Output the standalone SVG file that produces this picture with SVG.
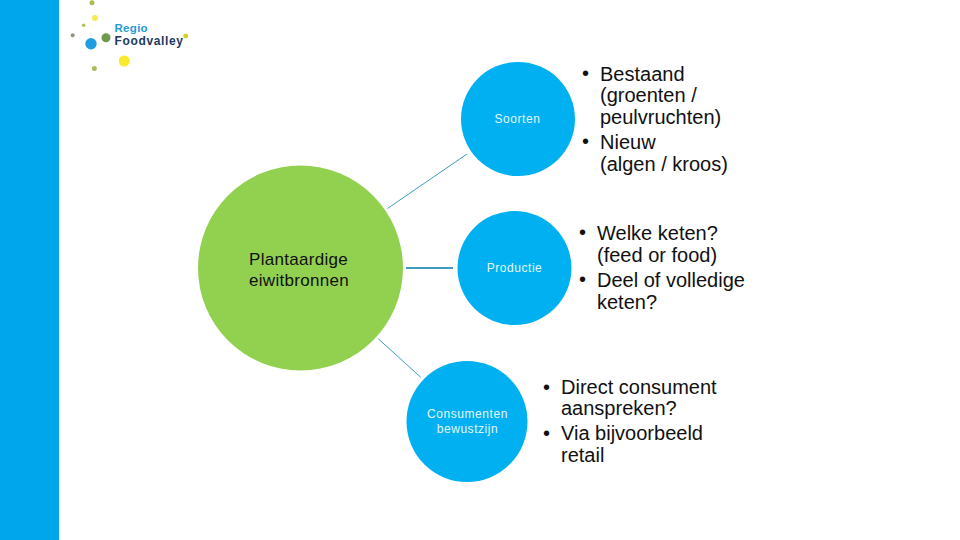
<svg xmlns="http://www.w3.org/2000/svg" width="960" height="540" viewBox="0 0 960 540">
<style>
text{font-family:"Liberation Sans",Arial,sans-serif}
.blue{fill:#00b0f0}
.small{font-size:12px;fill:#e4f7ff;text-anchor:middle;letter-spacing:.55px}
.big{font-size:20px;fill:#111}
.main{font-size:17px;fill:#111;letter-spacing:.3px}
.con{stroke:#3f9cc0;fill:none}
</style>
<rect width="960" height="540" fill="#fff"/>
<rect id="sidebar" width="59" height="540" fill="#00a6eb"/>
<g id="logo">
<circle cx="92" cy="2.700" r="2.500" fill="#a9bd55"/>
<circle cx="95" cy="18" r="3" fill="#f4ea5a"/>
<circle cx="83.700" cy="25.300" r="1.800" fill="#b5c25a"/>
<circle cx="72.700" cy="35.300" r="2" fill="#8a9a78"/>
<circle cx="91" cy="43.700" r="5.700" fill="#1e9ee0"/>
<circle cx="106" cy="37.800" r="4.500" fill="#6f9a4e"/>
<circle cx="124.300" cy="61" r="5.500" fill="#f8ea2e"/>
<circle cx="94.300" cy="68.400" r="2.500" fill="#a9bd55"/>
<circle cx="185.700" cy="36" r="2.500" fill="#d8d030"/>
<text x="114.500" y="31.500" font-size="11.500" font-weight="700" letter-spacing=".3" fill="#1e9ad6">Regio</text>
<text x="114.500" y="45" font-size="12" font-weight="700" letter-spacing=".65" fill="#1d3a5f">Foodvalley</text>
</g>
<g id="connectors">
<line class="con" x1="387.500" y1="208.500" x2="467" y2="154"/>
<line class="con" x1="406" y1="268" x2="453" y2="268" stroke-width="2"/>
<line class="con" x1="378.500" y1="339" x2="421" y2="377.500"/>
</g>
<g id="main">
<circle cx="300.500" cy="268" r="102.500" fill="#92d050"/>
<text class="main" x="249" y="264.500">Plantaardige</text>
<text class="main" x="249" y="286">eiwitbronnen</text>
</g>
<g id="soorten">
<circle class="blue" cx="518" cy="119" r="57"/>
<text class="small" x="517.500" y="122.500">Soorten</text>
</g>
<g id="productie">
<circle class="blue" cx="514.500" cy="268" r="57"/>
<text class="small" x="514.500" y="271.500">Productie</text>
</g>
<g id="consumenten">
<circle class="blue" cx="467" cy="421.500" r="60.500"/>
<text class="small" x="467.500" y="418">Consumenten</text>
<text class="small" x="467.500" y="432.500">bewustzijn</text>
</g>
<g id="text1">
<text class="big" x="582" y="80">•</text><text class="big" x="600" y="81">Bestaand</text>
<text class="big" x="600" y="102">(groenten /</text>
<text class="big" x="600" y="124">peulvruchten)</text>
<text class="big" x="582" y="148">•</text><text class="big" x="600" y="149">Nieuw</text>
<text class="big" x="600" y="171">(algen / kroos)</text>
</g>
<g id="text2">
<text class="big" x="579" y="239">•</text><text class="big" x="597" y="240">Welke keten?</text>
<text class="big" x="597" y="262">(feed or food)</text>
<text class="big" x="579" y="286">•</text><text class="big" x="597" y="287">Deel of volledige</text>
<text class="big" x="597" y="309">keten?</text>
</g>
<g id="text3">
<text class="big" x="543" y="394">•</text><text class="big" x="561" y="394">Direct consument</text>
<text class="big" x="561" y="415">aanspreken?</text>
<text class="big" x="543" y="440">•</text><text class="big" x="561" y="440">Via bijvoorbeeld</text>
<text class="big" x="561" y="462">retail</text>
</g>
</svg>
